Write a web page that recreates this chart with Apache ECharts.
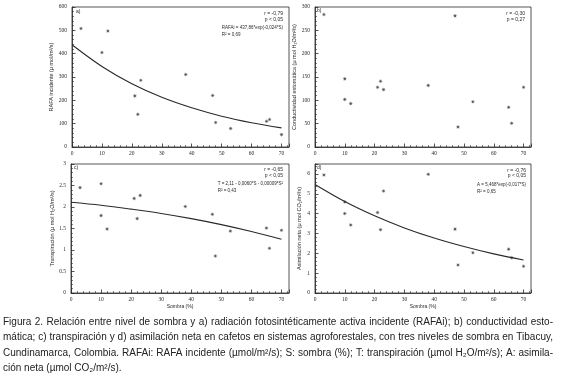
<!DOCTYPE html>
<html>
<head>
<meta charset="utf-8">
<script src="https://cdn.jsdelivr.net/npm/echarts@6/dist/echarts.min.js"></script>
<style>
  html, body { margin: 0; padding: 0; background: #fff; }
</style>
</head>
<body>
<div id="main" style="width:580px;height:378px;"></div>
<script type="text/javascript">
// niveles de sombra (%) de cada punto
var sombraA = [3, 10, 12, 21, 22, 23, 38, 47, 48, 53, 65, 66, 70];
var sombra = [3, 10, 10, 12, 21, 22, 23, 38, 47, 48, 53, 65, 66, 70];
// a) RAFA incidente
var rafai = [508, 405, 497, 219, 140, 286, 311, 221, 105, 79, 110, 118, 53];
// b) conductividad estomatica
var conductividad = [284, 146, 102, 93, 128, 141, 123, 132, 281, 43, 97, 85, 51, 128];
// c) transpiracion
var transpiracion = [2.45, 2.54, 1.80, 1.49, 2.20, 1.73, 2.27, 2.01, 1.83, 0.86, 1.44, 1.51, 1.04, 1.46];
// d) asimilacion neta
var asimilacion = [5.95, 4.59, 4.01, 3.43, 4.06, 3.19, 5.14, 5.98, 3.22, 1.41, 2.03, 2.21, 1.78, 1.35];
// curvas ajustadas
var curvaS = [0, 10, 20, 30, 40, 50, 60, 70];
var curvaA = [438, 345, 271, 213, 168, 132, 104, 82];
var curvaC = [2.11, 2.04, 1.95, 1.85, 1.73, 1.59, 1.43, 1.25];
var curvaD = [5.47, 4.61, 3.89, 3.28, 2.77, 2.34, 1.97, 1.66];

var nombresY = [
    'RAFA incidente (μ mol/m²/s)',
    'Conductividad estomática (μ mol H₂O/m²/s)',
    'Transpiración (μ mol H₂O/m²/s)',
    'Asimilación neta (μ mol CO₂/m²/s)'
];
var leyenda = [
    ['r = -0,79', 'p < 0,05', 'RAFAi = 437,86*exp(-0,024*S)', 'R² = 0,69'],
    ['r = -0,30', 'p = 0,27'],
    ['r = -0,65', 'p < 0,05', 'T = 2,11 - 0,0060*S - 0,00009*S²', 'R² = 0,43'],
    ['r = -0,76', 'p < 0,05', 'A = 5,468*exp(-0,017*S)', 'R² = 0,65']
];
var leyendaCaption = [
    'Figura 2. Relación entre nivel de sombra y a) radiación fotosintéticamente activa incidente (RAFAi); b) conductividad esto-',
    'mática; c) transpiración y d) asimilación neta en cafetos en sistemas agroforestales, con tres niveles de sombra en Tibacuy,',
    'Cundinamarca, Colombia. RAFAi: RAFA incidente (µmol/m²/s); S: sombra (%); T: transpiración (µmol H₂O/m²/s); A: asimila-',
    'ción neta (µmol CO₂/m²/s).'
];

var serif = '"Liberation Serif", "DejaVu Serif", serif';
var sans = '"Liberation Sans", Arial, "DejaVu Sans", sans-serif';
var ink = '#2a2a2a';

function pares(xs, ys) {
    return xs.map(function (x, i) { return [x, ys[i]]; });
}

// asterisco de 8 puntas para los puntos
function estrella() {
    var p = [];
    for (var k = 0; k < 16; k++) {
        var r = k % 2 ? 0.38 : 1;
        var a = k * Math.PI / 8;
        p.push((10 + 10 * r * Math.cos(a)).toFixed(2) + ' ' + (10 + 10 * r * Math.sin(a)).toFixed(2));
    }
    return 'path://M' + p.join(' L') + ' Z';
}
var simbolo = estrella();

var grids = [
    {left: 72, top: 7, width: 217, height: 140},
    {left: 315, top: 7, width: 216, height: 140},
    {left: 71, top: 164, width: 218, height: 129},
    {left: 315, top: 164, width: 216, height: 129}
];
grids.forEach(function (g) {
    g.show = true;
    g.borderColor = ink;
    g.borderWidth = 0.8;
    g.outerBoundsMode = 'none';
});

function ejeX(i, conNombre) {
    return {
        type: 'value', gridIndex: i, min: 0, max: 72.5, interval: 10,
        name: conNombre ? 'Sombra (%)' : '', nameLocation: 'middle', nameGap: 9,
        nameTextStyle: {fontFamily: sans, fontSize: 5, color: ink},
        axisLine: {show: true, lineStyle: {color: ink, width: 0.8}},
        axisTick: {show: true, inside: true, length: 3.5, lineStyle: {color: ink, width: 0.8}},
        minorTick: {show: true, splitNumber: 5, length: 2, lineStyle: {color: ink, width: 0.6}},
        axisLabel: {fontFamily: serif, fontSize: 5.5, color: ink, margin: 4, showMaxLabel: false},
        splitLine: {show: false}, minorSplitLine: {show: false}
    };
}
function ejeY(i, max, interval, gap, decimales) {
    return {
        type: 'value', gridIndex: i, min: 0, max: max, interval: interval,
        name: nombresY[i], nameLocation: 'middle', nameGap: gap,
        nameTextStyle: {fontFamily: sans, fontSize: 5.5, color: ink},
        axisLine: {show: true, lineStyle: {color: ink, width: 0.8}},
        axisTick: {show: true, inside: true, length: 3.5, lineStyle: {color: ink, width: 0.8}},
        minorTick: {show: true, splitNumber: 5, length: 2, lineStyle: {color: ink, width: 0.6}},
        axisLabel: {fontFamily: serif, fontSize: 5.5, color: ink, margin: 5,
            showMaxLabel: max % interval === 0,
            formatter: function (v) { return decimales ? String(v) : String(Math.round(v)); }},
        splitLine: {show: false}, minorSplitLine: {show: false}
    };
}

function puntos(i, xs, ys) {
    return {
        type: 'scatter', xAxisIndex: i, yAxisIndex: i, data: pares(xs, ys),
        symbol: simbolo, symbolSize: 4.5, itemStyle: {color: ink}, silent: true
    };
}
function curva(i, ys) {
    return {
        type: 'line', xAxisIndex: i, yAxisIndex: i, data: pares(curvaS, ys),
        smooth: 0.35, showSymbol: false, lineStyle: {color: ink, width: 1.1}, silent: true
    };
}

var ctx = document.createElement('canvas').getContext('2d');

// textos de cada panel: letra, r y p (a la derecha), ecuacion y R2
var graficos = [];
var letras = ['a)', 'b)', 'c)', 'd)'];
var posLetra = [[76, 12], [317, 11], [74, 168], [317, 168]];
var derecha = [283, 525, 283, 526];
var arriba = [14, 14, 170, 170.5];
var fuenteLey = '5px ' + sans;
var fuenteEc = '4.5px ' + sans;
letras.forEach(function (l, i) {
    graficos.push({type: 'text', x: posLetra[i][0], y: posLetra[i][1],
        style: {text: l, font: fuenteLey, fill: ink, verticalAlign: 'middle'}});
    var ley = leyenda[i];
    graficos.push({type: 'text', x: derecha[i], y: arriba[i],
        style: {text: ley[0], font: fuenteLey, fill: ink, align: 'right', verticalAlign: 'middle'}});
    graficos.push({type: 'text', x: derecha[i], y: arriba[i] + 5.5,
        style: {text: ley[1], font: fuenteLey, fill: ink, align: 'right', verticalAlign: 'middle'}});
    if (ley.length > 2) {
        ctx.font = fuenteEc;
        var inicio = derecha[i] - ctx.measureText(ley[2]).width;
        graficos.push({type: 'text', x: inicio, y: arriba[i] + 14,
            style: {text: ley[2], font: fuenteEc, fill: ink, verticalAlign: 'middle'}});
        graficos.push({type: 'text', x: inicio, y: arriba[i] + 21,
            style: {text: ley[3], font: fuenteEc, fill: ink, verticalAlign: 'middle'}});
    }
});

// leyenda de la figura, justificada palabra por palabra
var fuenteCaption = '10px ' + sans;
ctx.font = fuenteCaption;
var capX = 3, capW = 550, capY = [322, 337.5, 353, 368.5];
leyendaCaption.forEach(function (linea, j) {
    var palabras = linea.split(' ');
    var anchos = palabras.map(function (w) { return ctx.measureText(w).width; });
    var total = anchos.reduce(function (a, b) { return a + b; }, 0);
    var justificar = j < leyendaCaption.length - 1;
    var hueco = justificar ? (capW - total) / (palabras.length - 1) : ctx.measureText(' ').width;
    var x = capX;
    palabras.forEach(function (w, k) {
        graficos.push({type: 'text', x: x, y: capY[j],
            style: {text: w, font: fuenteCaption, fill: '#222', verticalAlign: 'middle'}});
        x += anchos[k] + hueco;
    });
});

var chart = echarts.init(document.getElementById('main'), null, {renderer: 'canvas'});
chart.setOption({
    animation: false,
    backgroundColor: '#fff',
    grid: grids,
    xAxis: [ejeX(0, false), ejeX(1, false), ejeX(2, true), ejeX(3, true)],
    yAxis: [
        ejeY(0, 600, 100, 17, false),
        ejeY(1, 300, 50, 15, false),
        ejeY(2, 3, 0.5, 13, true),
        ejeY(3, 6.5, 1, 13, false)
    ],
    series: [
        puntos(0, sombraA, rafai), curva(0, curvaA),
        puntos(1, sombra, conductividad),
        puntos(2, sombra, transpiracion), curva(2, curvaC),
        puntos(3, sombra, asimilacion), curva(3, curvaD)
    ],
    graphic: graficos
});
</script>
</body>
</html>
